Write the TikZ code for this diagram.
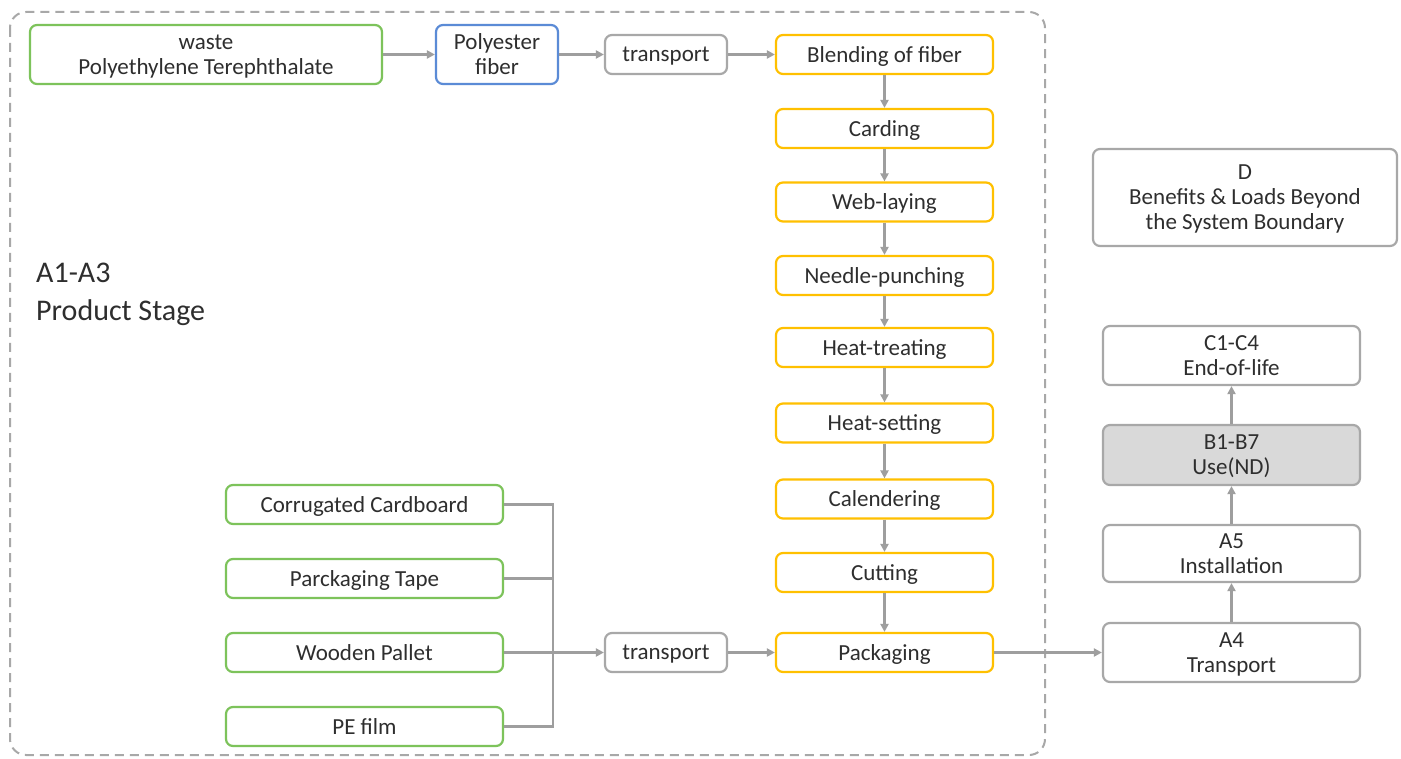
\documentclass[tikz,border=0pt]{standalone}
\usepackage{fontspec}
\setmainfont{Carlito}
\usetikzlibrary{arrows.meta}
\definecolor{gboxc}{HTML}{7DC35B}
\definecolor{bboxc}{HTML}{5B8BD6}
\definecolor{yboxc}{HTML}{FFC000}
\definecolor{grayc}{HTML}{A8A8A8}
\definecolor{linec}{HTML}{9E9E9E}
\definecolor{txtc}{HTML}{2E2E2E}
\definecolor{usefill}{HTML}{D9D9D9}
\tikzset{
  x=1pt,y=-1pt,
  base/.style={rectangle, rounded corners=7pt, line width=2.2pt, inner sep=0pt, align=center, text=txtc, font=\fontsize{23}{25}\selectfont, fill=white, text depth=0pt},
  gbox/.style={base, draw=gboxc},
  bbox/.style={base, draw=bboxc},
  ybox/.style={base, draw=yboxc, minimum width=217pt, minimum height=39pt},
  kbox/.style={base, draw=grayc},
  conn/.style={draw=linec, line width=2.5pt},
  arr/.style={conn, -{Triangle[length=8pt,width=8pt]}},
}
\begin{document}
\begin{tikzpicture}
\useasboundingbox (0,0) rectangle (1401,759);
\fill[white] (0,0) rectangle (1401,759);
% boundary
\draw[grayc, line width=2pt, dash pattern=on 9pt off 6pt, rounded corners=16pt] (10,12) rectangle (1045,755);
\node[anchor=west, align=left, text=txtc, font=\fontsize{30}{38}\selectfont, inner sep=0pt] (stage) at (36,294) {A1-A3\\Product Stage};
% top row
\node[gbox, minimum width=352pt, minimum height=59pt] (pet) at (206,54.5) {waste\\Polyethylene Terephthalate};
\node[bbox, minimum width=122pt, minimum height=59pt] (pf) at (497,54.5) {Polyester\\fiber};
\node[kbox, minimum width=122pt, minimum height=39pt] (tr1) at (666,54.5) {transport};
% yellow column
\node[ybox] (blend) at (884.5,54.5) {Blending of fiber};
\node[ybox] (card) at (884.5,128.5) {Carding};
\node[ybox] (web) at (884.5,202) {Web-laying};
\node[ybox] (needle) at (884.5,275.5) {Needle-punching};
\node[ybox] (htreat) at (884.5,347.5) {Heat-treating};
\node[ybox] (hset) at (884.5,423) {Heat-setting};
\node[ybox] (cal) at (884.5,499) {Calendering};
\node[ybox] (cut) at (884.5,572.5) {Cutting};
\node[ybox] (pack) at (884.5,652.5) {Packaging};
% packaging materials
\node[gbox, minimum width=277pt, minimum height=39pt] (cc) at (364.5,504.5) {Corrugated Cardboard};
\node[gbox, minimum width=277pt, minimum height=39pt] (tape) at (364.5,578.5) {Parckaging Tape};
\node[gbox, minimum width=277pt, minimum height=39pt] (wp) at (364.5,652.5) {Wooden Pallet};
\node[gbox, minimum width=277pt, minimum height=39pt] (pe) at (364.5,726.5) {PE film};
\node[kbox, minimum width=122pt, minimum height=39pt] (tr2) at (666,652.5) {transport};
% right column
\node[kbox, minimum width=304pt, minimum height=97pt] (D) at (1245,197.5) {D\\Benefits \& Loads Beyond\\the System Boundary};
\node[kbox, minimum width=257pt, minimum height=59pt] (c14) at (1231.5,355.5) {C1-C4\\End-of-life};
\node[kbox, fill=usefill, minimum width=257pt, minimum height=60pt] (b17) at (1231.5,455) {B1-B7\\Use(ND)};
\node[kbox, minimum width=257pt, minimum height=57pt] (a5) at (1231.5,553.5) {A5\\Installation};
\node[kbox, minimum width=257pt, minimum height=59pt] (a4) at (1231.5,652.5) {A4\\Transport};
% connectors
\draw[arr] (pet) -- (pf);
\draw[arr] (pf) -- (tr1);
\draw[arr] (tr1) -- (blend);
\draw[arr] (blend) -- (card);
\draw[arr] (card) -- (web);
\draw[arr] (web) -- (needle);
\draw[arr] (needle) -- (htreat);
\draw[arr] (htreat) -- (hset);
\draw[arr] (hset) -- (cal);
\draw[arr] (cal) -- (cut);
\draw[arr] (cut) -- (pack);
\coordinate (bustop) at (553,504.5);
\coordinate (busbot) at (553,726.5);
\draw[conn] (cc.east) -- (bustop) -- (busbot) -- (pe.east);
\draw[conn] (tape.east) -- (553,578.5);
\draw[arr] (wp) -- (tr2);
\draw[arr] (tr2) -- (pack);
\draw[arr] (pack) -- (a4);
\draw[arr] (a4) -- (a5);
\draw[arr] (a5) -- (b17);
\draw[arr] (b17) -- (c14);
\end{tikzpicture}
\end{document}
